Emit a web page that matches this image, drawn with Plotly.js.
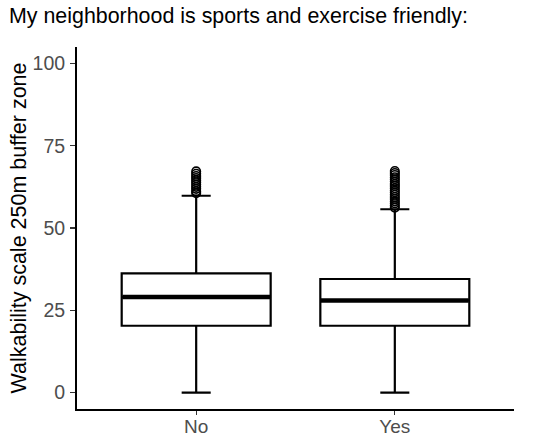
<!DOCTYPE html>
<html>
<head>
<meta charset="utf-8">
<script src="https://cdn.plot.ly/plotly-3.0.1.min.js"></script>
<style>
  html, body { margin: 0; padding: 0; background: #fff; }
  #chart { width: 550px; height: 442px; }
</style>
</head>
<body>
<div id="chart"></div>
<script>
// groups and box summaries
var groups = ['No', 'Yes'];
var lowerWhisker = [0, 0];
var q1 = [20.3, 20.3];
var medians = [29.0, 28.0];
var q3 = [36.2, 34.5];
var upperWhisker = [59.8, 55.7];

// outliers (they pile up into a solid column in the picture)
var outNo = [60.6, 61.2, 61.9, 62.5, 63.2, 63.9, 64.5, 65.2, 65.8, 66.5, 67.2];
var outYes = [56.2, 56.8, 57.5, 58.1, 58.8, 59.4, 60.1, 60.8, 61.4, 62.1, 62.8,
              63.4, 64.1, 64.8, 65.4, 66.1, 66.7, 67.3];

var font = 'Liberation Sans, Arial, sans-serif';

var boxTrace = {
  type: 'box',
  x: groups,
  q1: q1,
  median: medians,
  q3: q3,
  lowerfence: lowerWhisker,
  upperfence: upperWhisker,
  width: 0.75,
  whiskerwidth: 0.195,
  fillcolor: '#ffffff',
  line: { color: '#000000', width: 2.2 },
  boxpoints: false,
  hoverinfo: 'skip',
  showlegend: false
};

// ggplot draws the median twice as thick; line-ew spans 1.4 x size
var medianTrace = {
  type: 'scatter',
  mode: 'markers',
  x: groups,
  y: medians,
  marker: {
    symbol: 'line-ew',
    size: 105.5,
    color: '#000000',
    line: { color: '#000000', width: 4.5 }
  },
  hoverinfo: 'skip',
  showlegend: false
};

var outX = [];
var outY = [];
outNo.forEach(function (v) { outX.push(groups[0]); outY.push(v); });
outYes.forEach(function (v) { outX.push(groups[1]); outY.push(v); });

var outlierTrace = {
  type: 'scatter',
  mode: 'markers',
  x: outX,
  y: outY,
  marker: {
    symbol: 'circle-open',
    size: 8.5,
    color: '#000000',
    line: { color: '#000000', width: 1.6 }
  },
  hoverinfo: 'skip',
  showlegend: false
};

var layout = {
  width: 550,
  height: 442,
  margin: { l: 77, r: 36, t: 47, b: 33 },
  paper_bgcolor: '#ffffff',
  plot_bgcolor: '#ffffff',
  font: { family: font, color: '#000000' },
  title: {
    text: 'My neighborhood is sports and exercise friendly:',
    font: { family: font, size: 21.4, color: '#000000' },
    x: 9 / 550,
    xanchor: 'left',
    xref: 'container',
    y: 1 - 16 / 442,
    yref: 'container',
    yanchor: 'middle'
  },
  xaxis: {
    type: 'category',
    range: [-0.6, 1.6],
    showgrid: false,
    zeroline: false,
    showline: true,
    linecolor: '#000000',
    linewidth: 2,
    ticks: 'outside',
    ticklen: 4,
    tickwidth: 1.3,
    tickcolor: '#333333',
    ticklabelstandoff: -5,
    tickfont: { family: font, size: 19, color: '#4d4d4d' }
  },
  yaxis: {
    range: [-5, 105],
    tickvals: [0, 25, 50, 75, 100],
    showgrid: false,
    zeroline: false,
    showline: true,
    linecolor: '#000000',
    linewidth: 2,
    ticks: 'outside',
    ticklen: 5,
    tickwidth: 1.3,
    tickcolor: '#333333',
    ticklabelstandoff: 1,
    tickfont: { family: font, size: 19.5, color: '#4d4d4d' },
    title: {
      text: 'Walkability scale 250m buffer zone',
      font: { family: font, size: 21.5, color: '#000000' },
      standoff: 0
    }
  }
};

Plotly.newPlot('chart', [boxTrace, outlierTrace, medianTrace], layout, {
  displayModeBar: false,
  staticPlot: true
});
</script>
</body>
</html>
